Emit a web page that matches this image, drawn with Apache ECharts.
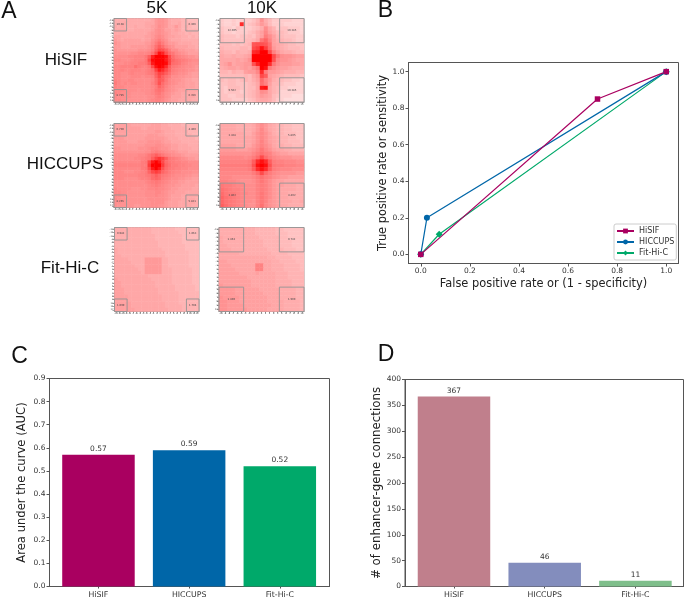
<!DOCTYPE html>
<html>
<head>
<meta charset="utf-8">
<style>html,body{margin:0;padding:0;background:#fff}#c{width:685px;height:599px}</style>
<script src="https://cdn.jsdelivr.net/npm/echarts@6/dist/echarts.min.js"></script>
</head>
<body>
<div id="c"></div>
<script>
// ---------- Panel A: heat-map cells, one base-36 digit per cell ----------
const hisif5k = [
"aaaaaaaaaaabdeedbaaa99888","aaabaaaaabbbdeedbaab99988","babaaabaabbcdfedbbdb9a988","bbbbaabbbbbcefeccbcb9a999",
"bbbbbbbbbbcdefedcbbaa9a99","ccbbbbbbbccdfgfdccbbaa9a9","dcbcccccbccegigecbbbaaaaa","edcccccccddfilifddcbbbbaa",
"ddcccdddddegknlhfeccccbba","eddddddeeefhmqpmiffddcccb","eeeeeffggghkqxvpljgfedccc","ffffgghhhjnvzzzxqlihgfeed",
"ggfffghhhjqyzzzwrmkjihgff","fffgghhiijnwzzzyrlkjhgfee","gghhhhkihhjqxzyunjihgffed","gghgghhhghikrwuqmihggfeed",
"ggffghggghijnrqnkhgffedcc","ggfffgggfgghmqnkiffeeddcc","hgffggfffffgkonjgfeedccbb","igfgfggffffhkpligfeddcccb",
"hggffffffffgimkhfedddcccb","gggffffefffgjkjgfedcccbbb","hgfffeeeeffgijhfedccbbbba","gffffeeeeeffhihfecccbbbba",
"ggffeeeeeefghhgedccbbbbaa"];
const hisif10k = [
"6556566679ea866666555","65565u678adb866655555","7665766678afb96776665","766566678acgca8876665",
"877767787acifc9877766","877777889bjmhca988766","88878789oppokcba98877","98888998qsxsldba98887",
"a998a99auvzzqhdbaa988","baabaabczzzzzqjfeedcc","bbbbcbcezzzzzpgeedcbb","bcebccddpvzzujfdddccb",
"abccbcdcfjzxifdccbaaa","998a99cddguiddcbaaa99","88888898bdqncba988887","87887898aclgda9877665",
"778877789bkhc99766655","768887788bwxb98665555","767776789bfeb98555555","776677789bdcb87555444",
"777666678abba86544444"];
const hiccups5k = [
"cccccbbbbbbcccbbaaaa99999","ccccccccbbccccbbbaaaa9999","ccccccccccccddcbbbaaaa999","ccccccccccdddccbbbaaaaa99",
"dddccccccddddddcbbbaaaaa9","ddddcccdddeeeedccbbbaaaaa","dddddddddeeeffeddccbbbaaa","eedddddeeefggfeedccbbbbaa",
"eeeeeeeeeffhihgfeedcccbbb","fffffffgghjlnljhgfeedcccc","ffffffgghijnrtrnjihgfeddc","ggggggggijqwzwqljihhggfff",
"hhhhhhhhiiszzzsmkiihhggff","ggggggggijpwzwpljihhggfff","gggfffgghimqsqmkihggfffee","ggggggghhijlnljihgfffeedd",
"gggffffghhilmlihgffeeddcc","fffffffffghijihgfeeddcccc","ffffffffffghihgfeeddccccb","gffffeeeffgghggfeddccccbb",
"ggffeeeeefffggfeddcccbbbb","ggfeeeeeefffgffedcccbbbbb","gfeeeeeeeefffffedcccbbbba","ffeeeeeeeeeffffdcccbbbbba",
"feeeeeddeeeffeedcccbbbbaa"];
const hiccups10k = [
"bbbbaaaabdfdba9988777","bbbbaaaabdgdba9988777","bbbbbbaacegeca9988877","bbbbbbbbcegecba998877",
"bbbbbbbbcehecba998887","ccccbbbbdfhfdbaa99888","ddddcccdegjgecbbaa999","eeeeeeeegikihedccbbbb",
"ggggggfgilqligfeeeddd","hhhhhhhinuxunihhgggff","iiiiiiijpxzxpjiihhhgg","hhhhhhhinuxunihgggfff",
"ggggggggilqligfeeeedd","gggfffffgikihfeddcccc","hhggfeeefhjhfdccbbbbb","jiihggfffhihfdccbbbaa",
"kjihhgfffhihfdcbbbbaa","ljiihggffhjhfdcbbaaaa","mkjihgfffhjhfdcbbaaaa","mkjihgffehjhedcbbbaab",
"nljihgfeehkgedcbbaaaa"];
const fithic5k = [
"aaaaaaaaaaa99999998888888","aaaaaaaaaaa99999999888888","aaaaaaaaaaaa9999999988888","aaaaaaaaaaaa9999999988888",
"aaaaaaaaaaaaa999999988888","aaaaaaaaaaaaa999999998888","baaaaaaaaaaaaa99999998888","baaaaaaaaaaaaaa9999999888",
"bbaaaaaaaaaaaaa9999999888","bbbbaaaaadddddaa999999888","bbbbbaaaadddddaa999999888","bbbbbbaaadddddaa999999888",
"bbbbbbbaadddddaaa99999988","bbbbbbbbadddddaaa99999988","bbbbbbbbbbaaaaaaa99999988","cbbbbbbbbbbaaaaaa99999988",
"ccbbbbbbbbbbaaaaa99999988","ccbbbbbbbbbbaaaaaa9999998","cccbbbbbbbbbbaaaaa9999998","cccbbbbbbbbbbaaaaaa999999",
"ccccbbbbbbbbbbaaaaa999999","ccccbbbbbbbbbbaaaaa999999","cccccbbbbbbbbbbaaaa999999","cccccbbbbbbbbbbaaaaa99999",
"ccccccbbbbbbbbbbaaaa99999"];
const fithic10k = [
"aaaaaaaaa999998877777","aaaaaaaaa999998887777","baaaaaaaaa99999887777","baaaaaaaaaa9999888777",
"bbaaaaaaaaa9999888777","bbbaaaaaaaaa999988877","bbbbbaaaaaaaa99998888","bbbbbbbbbbbbaa9999888",
"ccbbbbbbbbbbbaa999988","cccbbbbbbhhbbaaa99998","ccccbbbbbhhbbaaa99998","cccccbbbbcbbbbaaa9999",
"cccccccbbbbbbbaaa9999","ccccccccbbbbbbaaaa999","dcccccccbbbbbbaaaa999","ddddccccccbbbbbaaaa99",
"ddddcccccccbbbbaaaa99","eddddcccccccbbbaaaa99","eedddcccccccbbbbaaaa9","eeddddcccccccbbbaaaa9",
"eedddddcccccbbbbaaaa9"];
// corner-box readings (top-left, top-right, bottom-left, bottom-right)
const hisif5kBoxes = ["10.08","6.306","8.785","6.356"];
const hisif10kBoxes = ["12.005","10.385","9.502","10.385"];
const hiccups5kBoxes = ["0.700","4.400","8.265","5.821"];
const hiccups10kBoxes = ["3.428","5.805","3.802","4.402"];
const fithic5kBoxes = ["0.982","1.063","1.099","1.704"];
const fithic10kBoxes = ["1.463","0.742","1.400","1.900"];
const boxShare5k = 0.149, boxShare10k = 0.29;
const rowHeads = ["HiSIF","HICCUPS","Fit-Hi-C"];
const colHeads = ["5K","10K"];

// ---------- Panel B ----------
const rocHisif = [[0,0],[0.72,0.85],[1,1]];
const rocHiccups = [[0,0],[0.025,0.2],[1,1]];
const rocFit = [[0,0],[0.075,0.11],[1,1]];
const rocTicks = [0,0.2,0.4,0.6,0.8,1];

// ---------- Panels C, D ----------
const methods = ["HiSIF","HICCUPS","Fit-Hi-C"];
const aucValues = [0.57,0.59,0.52];
const aucColors = ["#a90060","#0066a8","#00a96a"];
const enhancerValues = [367,46,11];
const enhancerColors = ["#c07f8c","#838dbd","#7fbf8b"];

const FONT = "DejaVu Sans";
const option = {animation:false,backgroundColor:"#fff",grid:[],xAxis:[],yAxis:[],series:[],graphic:[]};

function addHeat(rows, boxes, share, left, top, w, h){
  const g = option.grid.length, xi = option.xAxis.length, yi = option.yAxis.length;
  option.grid.push({left,top,width:w,height:h,show:true,borderColor:"#999",borderWidth:1,backgroundColor:"transparent",containLabel:false});
  const n = rows.length, half = (n-1)/2;
  const labels = Array.from({length:n},(_,i)=>String(i-half));
  const cat = (inverse)=>({type:"category",gridIndex:g,data:labels,inverse,boundaryGap:true,
    axisLine:{show:true,lineStyle:{color:"#8c8c8c",width:1}},
    axisTick:{show:true,alignWithLabel:true,interval:0,length:2,lineStyle:{color:"#666",width:0.6}},
    axisLabel:{show:true,interval:0,fontSize:2.4,margin:1,color:"#555",fontFamily:FONT},splitLine:{show:false}});
  option.xAxis.push(cat(false));
  option.yAxis.push(cat(true));
  const hidden = {type:"value",gridIndex:g,min:0,max:1,show:false};
  option.xAxis.push({...hidden}); option.yAxis.push({...hidden});
  const cells = [];
  rows.forEach((r,j)=>{ for(let i=0;i<r.length;i++) cells.push([i,j,parseInt(r[i],36)]); });
  option.series.push({type:"heatmap",xAxisIndex:xi,yAxisIndex:yi,data:cells,progressive:0,silent:true,itemStyle:{borderWidth:0}});
  const s = share;
  const boxData = [[0,1-s,s,1,boxes[0]],[1-s,1-s,1,1,boxes[1]],[0,0,s,s,boxes[2]],[1-s,0,1,s,boxes[3]]];
  option.series.push({type:"custom",xAxisIndex:xi+1,yAxisIndex:yi+1,data:boxData,silent:true,z:5,
    renderItem(params,api){
      const a = api.coord([api.value(0),api.value(3)]), b = api.coord([api.value(2),api.value(1)]);
      return {type:"group",children:[
        {type:"rect",shape:{x:a[0],y:a[1],width:b[0]-a[0],height:b[1]-a[1]},style:{fill:"none",stroke:"#939393",lineWidth:0.9}},
        {type:"text",style:{text:boxes[params.dataIndex],x:(a[0]+b[0])/2,y:(a[1]+b[1])/2,fill:"#444",
          font:"2.6px "+FONT,textAlign:"center",textVerticalAlign:"middle"}}
      ]};
    }});
}
addHeat(hisif5k,hisif5kBoxes,boxShare5k,114,18.5,84.5,83.5);
addHeat(hisif10k,hisif10kBoxes,boxShare10k,220,18.5,84,83.5);
addHeat(hiccups5k,hiccups5kBoxes,boxShare5k,114,123.5,84.5,84);
addHeat(hiccups10k,hiccups10kBoxes,boxShare10k,220,123.5,84,84);
addHeat(fithic5k,fithic5kBoxes,boxShare5k,114.5,227.5,84.5,84);
addHeat(fithic10k,fithic10kBoxes,boxShare10k,219,227.5,85,84);

const axisGrey = "#555", textGrey = "#333";
// Panel B
(function(){
  const g = option.grid.length, xi = option.xAxis.length, yi = option.yAxis.length;
  option.grid.push({left:408.5,top:62.5,width:270,height:201,show:true,borderColor:axisGrey,borderWidth:1,backgroundColor:"transparent"});
  const base = {type:"value",gridIndex:g,min:-0.05,max:1.05,splitLine:{show:false},
    axisLine:{show:true,onZero:false,lineStyle:{color:axisGrey}},
    axisTick:{show:true,length:3,customValues:rocTicks,lineStyle:{color:axisGrey}},
    nameLocation:"middle",nameTextStyle:{fontFamily:FONT,fontSize:11.4,color:"#222"}};
  const lab = {customValues:rocTicks,fontFamily:FONT,fontSize:7.5,color:textGrey,margin:4,formatter:v=>v.toFixed(1),showMinLabel:true,showMaxLabel:true};
  option.xAxis.push({...base,name:"False positive rate or (1 - specificity)",nameGap:15,axisLabel:lab});
  option.yAxis.push({...base,name:"True positive rate or sensitivity",nameGap:20,axisLabel:lab});
  const line = (name,data,color,symbol)=>({name,type:"line",xAxisIndex:xi,yAxisIndex:yi,data,symbol,symbolSize:symbol==="diamond"?7:symbol==="rect"?5.5:6,
    lineStyle:{color,width:1.2},itemStyle:{color},emphasis:{disabled:true}});
  option.series.push(line("Fit-Hi-C",rocFit,aucColors[2],"diamond"));
  option.series.push(line("HICCUPS",rocHiccups,aucColors[1],"circle"));
  option.series.push(line("HiSIF",rocHisif,aucColors[0],"rect"));
  option.legend = {data:methods,orient:"vertical",left:614,top:224,itemWidth:17,itemHeight:6,itemGap:3,padding:[3,2,3,2],
    borderColor:"#ccc",borderWidth:1,borderRadius:2,backgroundColor:"#fff",textStyle:{fontFamily:FONT,fontSize:8,color:textGrey},selectedMode:false,z:10};
})();

// Panels C, D
function addBars(values,colors,left,top,w,h,xMin,xMax,yMax,yInt,title,gap,nameSize,fmt,yFmt){
  const g = option.grid.length, xi = option.xAxis.length, yi = option.yAxis.length;
  option.grid.push({left,top,width:w,height:h,show:true,borderColor:axisGrey,borderWidth:1,backgroundColor:"transparent"});
  const idx = methods.map((_,i)=>i);
  option.xAxis.push({type:"value",gridIndex:g,min:xMin,max:xMax,splitLine:{show:false},
    axisLine:{show:true,onZero:false,lineStyle:{color:axisGrey}},axisTick:{show:true,length:2,customValues:idx,lineStyle:{color:axisGrey}},
    axisLabel:{customValues:idx,fontFamily:FONT,fontSize:7.8,color:textGrey,margin:4.5,formatter:v=>methods[v]}});
  option.yAxis.push({type:"value",gridIndex:g,min:0,max:yMax,interval:yInt,splitLine:{show:false},
    axisLine:{show:true,onZero:false,lineStyle:{color:axisGrey}},axisTick:{show:true,length:3,lineStyle:{color:axisGrey}},
    axisLabel:{fontFamily:FONT,fontSize:7.5,color:textGrey,margin:4,formatter:yFmt,showMaxLabel:true},
    name:title,nameLocation:"middle",nameGap:gap,nameTextStyle:{fontFamily:FONT,fontSize:nameSize,color:"#222"}});
  option.series.push({type:"bar",xAxisIndex:xi,yAxisIndex:yi,barWidth:72.5,emphasis:{disabled:true},
    data:values.map((v,i)=>({value:[i,v],itemStyle:{color:colors[i]}})),
    label:{show:true,position:"top",distance:2,fontFamily:FONT,fontSize:7.5,color:textGrey,formatter:p=>fmt(p.value[1])}});
}
addBars(aucValues,aucColors,49.5,378.5,280,208,-0.54,2.548,0.9,0.1,"Area under the curve (AUC)",21.5,11.6,v=>v.toFixed(2),v=>v.toFixed(1));
addBars(enhancerValues,enhancerColors,405,379.5,278.5,207,-0.54,2.53,400,50,"# of enhancer-gene connections",22,11.8,v=>String(v),v=>String(v));

// headings and panel letters
const txt = (text,cx,cy,size)=>({type:"text",z:20,style:{text,x:cx,y:cy,font:size+"px 'Liberation Sans'",fill:"#111",textAlign:"center",textVerticalAlign:"middle"}});
option.graphic = [
  txt("A",9,12,23),txt("B",385.5,11,23),txt("C",19.5,357,23),txt("D",386,355,23),
  txt(colHeads[0],157,8,17),txt(colHeads[1],262,8,17),
  txt(rowHeads[0],66,60,17),txt(rowHeads[1],65,164,17),txt(rowHeads[2],70,268,17)
];
option.visualMap = {type:"continuous",show:false,min:0,max:35,
  seriesIndex:option.series.map((s,i)=>s.type==="heatmap"?i:-1).filter(i=>i>=0),
  inRange:{color:["#ffffff","#ffc2c2","#ff9292","#ff6c6c","#ff3c3c","#ff0000"]}};

const chart = echarts.init(document.getElementById("c"),null,{renderer:"canvas"});
chart.setOption(option);
</script>
</body>
</html>
